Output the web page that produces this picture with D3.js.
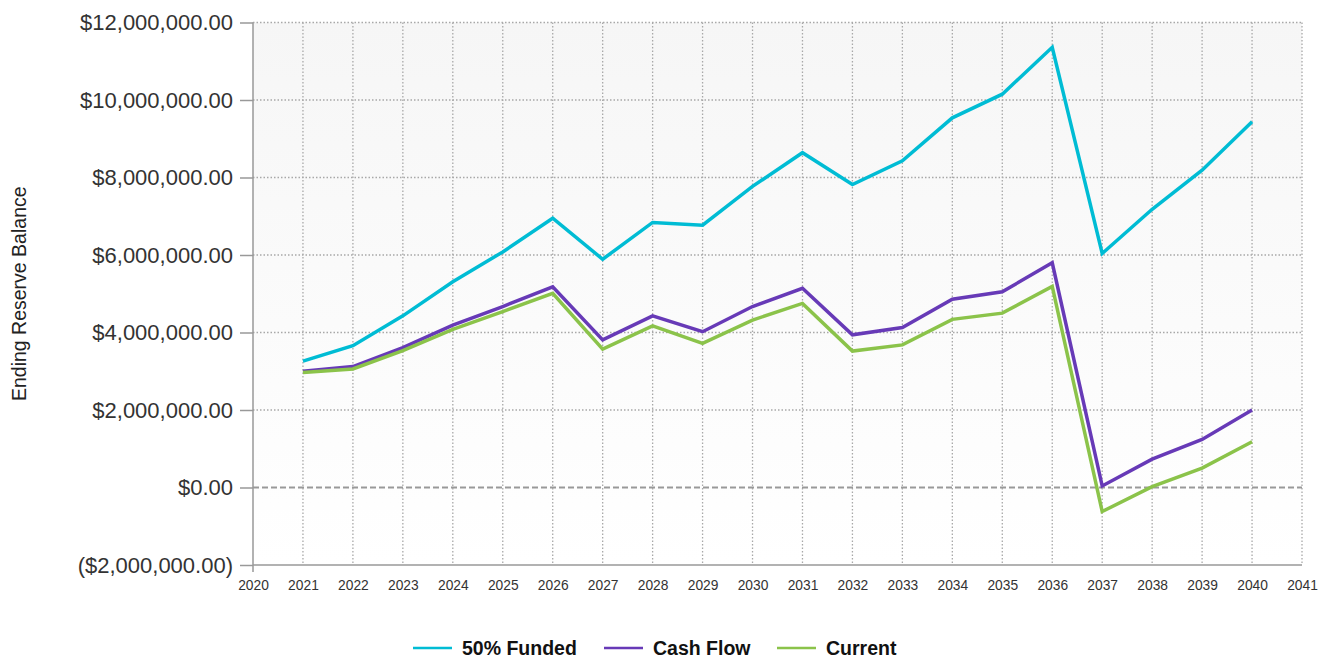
<!DOCTYPE html>
<html>
<head>
<meta charset="utf-8">
<script src="https://cdn.jsdelivr.net/npm/d3@7"></script>
<style>
  html, body { margin: 0; padding: 0; background: #fff; }
  svg { display: block; font-family: "Liberation Sans", Arial, sans-serif; }
</style>
</head>
<body>
<svg id="chart" width="1328" height="658"></svg>
<script>
const years = [2021, 2022, 2023, 2024, 2025, 2026, 2027, 2028, 2029, 2030,
               2031, 2032, 2033, 2034, 2035, 2036, 2037, 2038, 2039, 2040];
const funded50 = [3260000, 3660000, 4430000, 5310000, 6080000, 6950000, 5890000, 6840000, 6770000, 7770000,
                  8640000, 7820000, 8430000, 9540000, 10150000, 11360000, 6040000, 7180000, 8190000, 9440000];
const cashFlow = [3000000, 3120000, 3610000, 4190000, 4670000, 5180000, 3810000, 4430000, 4020000, 4670000,
                  5140000, 3940000, 4130000, 4860000, 5050000, 5800000, 40000, 730000, 1240000, 2000000];
const current = [2970000, 3060000, 3530000, 4080000, 4540000, 5010000, 3570000, 4170000, 3720000, 4320000,
                 4750000, 3520000, 3680000, 4340000, 4500000, 5190000, -620000, 20000, 500000, 1180000];
const seriesNames = ["50% Funded", "Cash Flow", "Current"];
const seriesColors = ["#00bcd4", "#673ab7", "#8bc34a"];
const xTicks = d3.range(2020, 2042);
const yTicks = [-2000000, 0, 2000000, 4000000, 6000000, 8000000, 10000000, 12000000];
const yTitle = "Ending Reserve Balance";

const svg = d3.select("#chart");
const pLeft = 253, pRight = 1302, pTop = 22.5, pBottom = 565;
const x = d3.scaleLinear().domain([2020, 2041]).range([pLeft, pRight]);
const y = d3.scaleLinear().domain([-2000000, 12000000]).range([pBottom, pTop]);
const fmt = d3.format("($,.2f");

// background gradient
const defs = svg.append("defs");
const grad = defs.append("linearGradient").attr("id", "bg").attr("x1", 0).attr("y1", 0).attr("x2", 0).attr("y2", 1);
grad.append("stop").attr("offset", "0%").attr("stop-color", "#f6f6f6");
grad.append("stop").attr("offset", "100%").attr("stop-color", "#ffffff");
svg.append("rect").attr("x", pLeft).attr("y", pTop).attr("width", pRight - pLeft).attr("height", pBottom - pTop)
  .attr("fill", "url(#bg)");

// grid
const grid = svg.append("g");
grid.selectAll("line.v").data(xTicks.slice(1)).enter().append("line")
  .attr("x1", d => x(d)).attr("x2", d => x(d)).attr("y1", pTop).attr("y2", pBottom)
  .attr("stroke", "#a8a8a8").attr("stroke-width", 1.3).attr("stroke-dasharray", "1.5,2");
grid.selectAll("line.h").data(yTicks.filter(d => d !== 0 && d !== -2000000)).enter().append("line")
  .attr("x1", pLeft).attr("x2", pRight).attr("y1", d => y(d)).attr("y2", d => y(d))
  .attr("stroke", "#a8a8a8").attr("stroke-width", 1.3).attr("stroke-dasharray", "1.5,2");
// zero line
svg.append("line").attr("x1", pLeft).attr("x2", pRight).attr("y1", y(0)).attr("y2", y(0))
  .attr("stroke", "#999").attr("stroke-width", 2).attr("stroke-dasharray", "6,3");

// y axis
const yAxis = d3.axisLeft(y).tickValues(yTicks).tickFormat(fmt).tickSize(13).tickPadding(7);
const gy = svg.append("g").attr("transform", `translate(${pLeft},0)`).call(yAxis);
gy.select(".domain").remove();
gy.selectAll(".tick line").attr("stroke", "#999").attr("stroke-width", 1.5);
gy.selectAll(".tick text").attr("fill", "#333").style("font-size", "22px")
  .style("font-family", "'Liberation Sans', Arial, sans-serif");
svg.append("line").attr("x1", pLeft).attr("x2", pLeft).attr("y1", pTop).attr("y2", pBottom + 7)
  .attr("stroke", "#999").attr("stroke-width", 1.5);

// x axis
const xAxis = d3.axisBottom(x).tickValues(xTicks).tickFormat(d3.format("d")).tickSize(0).tickPadding(15);
const gx = svg.append("g").attr("transform", `translate(0,${pBottom})`).call(xAxis);
gx.select(".domain").remove();
gx.selectAll(".tick text").attr("fill", "#333").style("font-size", "13.8px")
  .style("font-family", "'Liberation Sans', Arial, sans-serif");
svg.append("line").attr("x1", pLeft).attr("x2", pRight).attr("y1", pBottom).attr("y2", pBottom)
  .attr("stroke", "#999").attr("stroke-width", 1.5);

// y title
svg.append("text").attr("transform", `translate(26,${(pTop + pBottom) / 2}) rotate(-90)`)
  .attr("text-anchor", "middle").attr("fill", "#222").style("font-size", "19.5px").text(yTitle);

// lines
const allSeries = [funded50, cashFlow, current];
const line = d3.line().x((d, i) => x(years[i])).y(d => y(d));
allSeries.forEach((s, k) => {
  svg.append("path").datum(s).attr("d", line).attr("fill", "none")
    .attr("stroke", seriesColors[k]).attr("stroke-width", 3.5)
    .attr("stroke-linejoin", "miter").attr("stroke-linecap", "butt");
});

// legend
const legend = svg.append("g");
const itemsX = [413, 604, 777];
seriesNames.forEach((n, k) => {
  const g = legend.append("g").attr("transform", `translate(${itemsX[k]},648)`);
  g.append("line").attr("x1", 0).attr("x2", 39).attr("y1", 0).attr("y2", 0)
    .attr("stroke", seriesColors[k]).attr("stroke-width", 2.5);
  g.append("text").attr("x", 49).attr("y", 0).attr("dy", "0.35em").attr("fill", "#111")
    .style("font-size", "19.5px").style("font-weight", "bold").text(n);
});
</script>
</body>
</html>
